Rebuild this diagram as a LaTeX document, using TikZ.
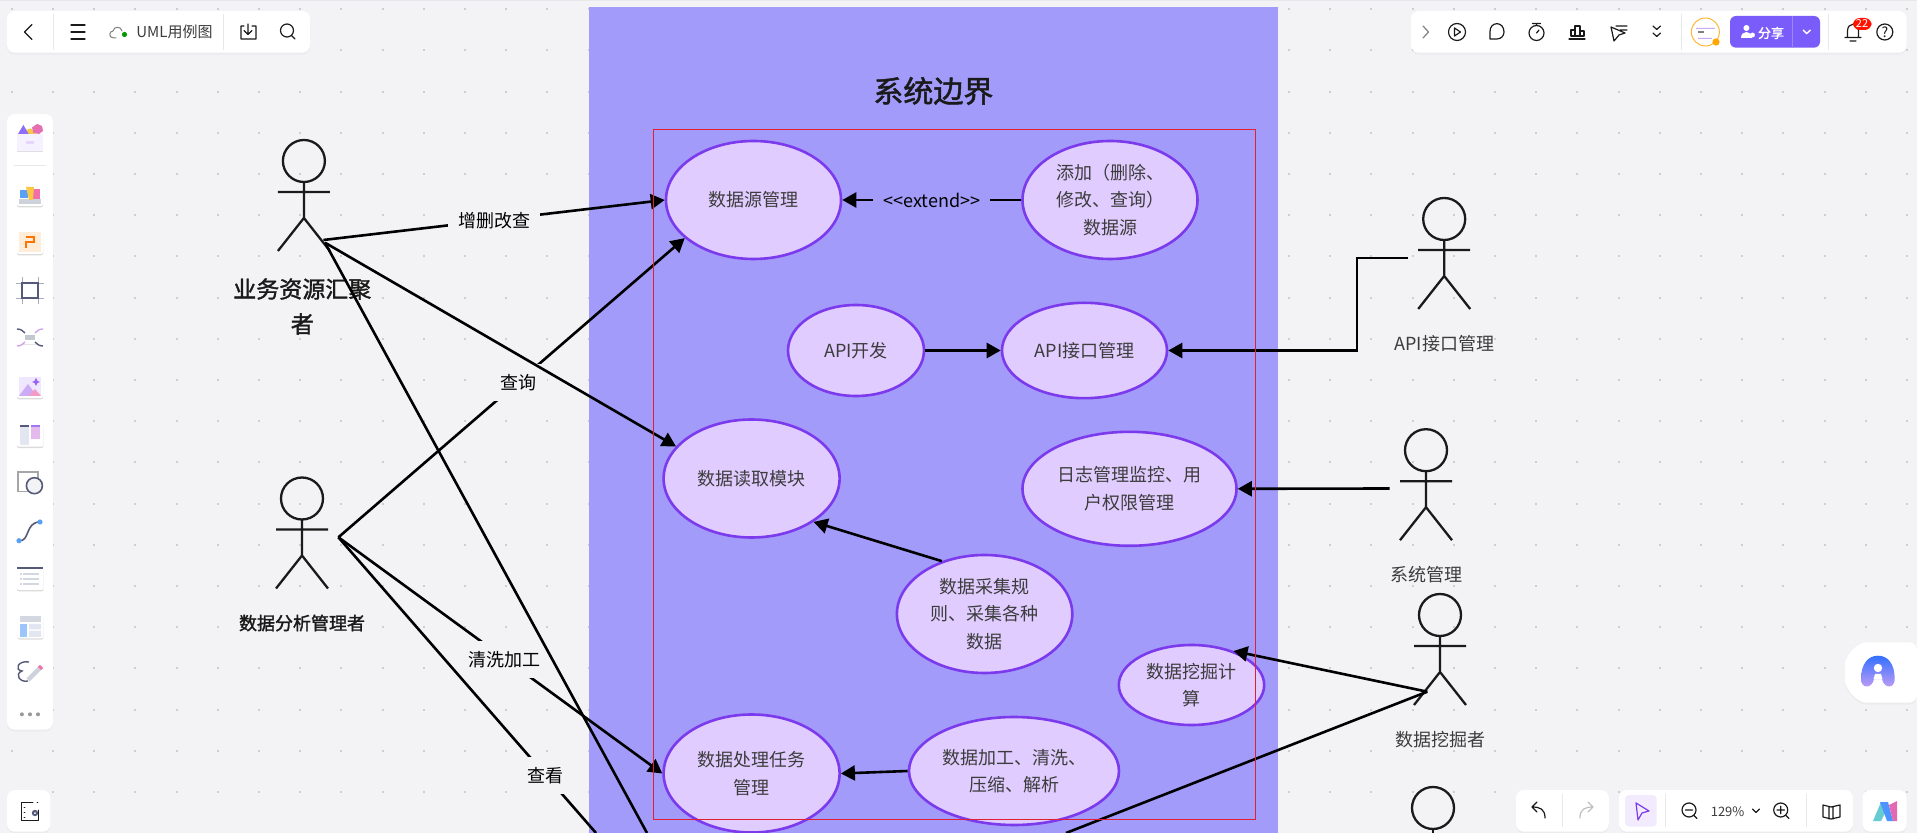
\documentclass[tikz,border=0pt]{standalone}
\usepackage{fontspec}
\setmainfont{Noto Sans CJK SC}
\newfontfamily\medfont[FakeBold=1.6]{Noto Sans CJK SC}
\usepackage{tikz}
\usetikzlibrary{arrows.meta,positioning,shapes.geometric,shadows}
\definecolor{kcanvas}{RGB}{243,243,246}
\definecolor{kdot}{RGB}{205,205,210}
\definecolor{kbound}{RGB}{162,155,250}
\definecolor{kuse}{RGB}{224,204,255}
\definecolor{kedge}{RGB}{124,58,237}
\definecolor{kred}{RGB}{226,30,50}
\definecolor{kink}{RGB}{26,26,26}
\definecolor{ktext}{RGB}{60,60,60}
\definecolor{kicon}{RGB}{85,90,120}
\definecolor{kshare}{RGB}{122,92,250}
\definecolor{kline}{RGB}{232,232,236}
\definecolor{kpink}{RGB}{240,110,170}
\definecolor{kblue}{RGB}{90,160,245}
\definecolor{kyellow}{RGB}{250,200,70}
\definecolor{klilac}{RGB}{205,170,245}
\definecolor{kgrey}{RGB}{226,230,240}
\definecolor{kviolet}{RGB}{140,110,250}
\newcommand{\stickman}[3]{%
  \node[actorhead] (#1) at (#2,#3) {};
  \draw[actorline,shift={(#2,#3)}] (0,21) -- (0,57) (-26,31) -- (26,31) (-26,90) -- (0,57) -- (26,90);
}
\begin{document}
\begin{tikzpicture}[x=0.5pt,y=-0.5pt,>={Triangle[length=7pt,width=7.5pt]},font=\fontsize{9}{13.7}\selectfont,text=ktext]
\tikzstyle{usecase}=[ellipse, draw=kedge, line width=1.3pt, fill=kuse, align=center, inner sep=0pt]
\tikzstyle{flow}=[line width=1.3pt, black]
\tikzstyle{linelabel}=[fill=kcanvas, inner xsep=5.2pt, inner ysep=0pt, minimum height=18.5pt, yshift=-0.4pt]
\tikzstyle{actorhead}=[circle, draw=kink, line width=1.15pt, minimum size=21pt, inner sep=0pt]
\tikzstyle{actorline}=[draw=kink, line width=1.15pt]
\tikzstyle{actorname}=[inner sep=0pt, minimum height=13pt, align=center]
\tikzstyle{panel}=[fill=white, rounded corners=4pt, drop shadow={shadow xshift=0pt,shadow yshift=-1pt,opacity=0.06}]
\tikzstyle{uiicon}=[draw=kink, line width=0.6pt, line cap=round, line join=round]
\tikzstyle{tile}=[fill=white, rounded corners=1pt, drop shadow={shadow xshift=0pt,shadow yshift=-0.7pt,opacity=0.28}]
\tikzstyle{sep}=[draw=kline, line width=0.5pt]

\useasboundingbox (0,0) rectangle (1917,833);
\fill[kcanvas] (0,0) rectangle (1917,833);
\fill[kline] (0,0) rectangle (1917,1.5);
\foreach \dotx in {0,...,46}
  \foreach \doty in {0,...,19}
    \fill[kdot] ({10.7+41.2*\dotx},{8.3+41.2*\doty}) rectangle ++(2,2);

\fill[kbound] (589,7) rectangle (1277.6,833);
\node[font=\fontsize{15}{18}\medfont,text=kink] (boundtitle) at (933.4,91) {系统边界};

\node[usecase, minimum width=87.5pt, minimum height=59pt] (dsrc) at (753.5,200) {数据源管理};
\node[usecase, minimum width=87.5pt, minimum height=59pt] (addsrc) at (1110,200) {添加（删除、\\修改、查询）\\数据源};
\node[usecase, minimum width=68pt, minimum height=45.5pt] (apidev) at (856,350.5) {API开发};
\node[usecase, minimum width=82.5pt, minimum height=47.7pt] (apimgr) at (1084.5,350.5) {API接口管理};
\node[usecase, minimum width=88pt, minimum height=59pt] (reader) at (751.6,478.5) {数据读取模块};
\node[usecase, minimum width=107pt, minimum height=57pt] (logs) at (1129.5,488.8) {日志管理监控、用\\户权限管理};
\node[usecase, minimum width=87.7pt, minimum height=59pt] (collect) at (984.6,614) {数据采集规\\则、采集各种\\数据};
\node[usecase, minimum width=72.7pt, minimum height=40pt] (mining) at (1191.5,685) {数据挖掘计\\算};
\node[usecase, minimum width=88pt, minimum height=59pt] (task) at (751.6,773.5) {数据处理任务\\管理};
\node[usecase, minimum width=105pt, minimum height=54pt] (clean) at (1014,771) {数据加工、清洗、\\压缩、解析};

\stickman{bizhead}{303.9}{161}
\stickman{anahead}{302}{498.5}
\stickman{apihead}{1444.2}{219}
\stickman{syshead}{1426}{450.2}
\stickman{minehead}{1440}{615}
\draw[actorline] (1433,829) -- (1433,833);
\node[actorhead] (lasthead) at (1433,808) {};

\node[font=\fontsize{11.5}{17.5}\medfont, text=kink, align=center] (bizname) at (302.3,306.5) {业务资源汇聚\\者};
\node[actorname, font=\fontsize{9}{13}\medfont, text=kink, below=44.5pt of anahead] (ananame) {数据分析管理者};
\node[actorname, below=44.5pt of apihead] (apiname) {API接口管理};
\node[actorname, below=44.5pt of syshead] (sysname) {系统管理};
\node[actorname, below=44.5pt of minehead] (minename) {数据挖掘者};

\coordinate (bizc) at (323.4,240);
\coordinate (bizd) at (325,242.7);
\coordinate (bizoff) at (647,833);
\coordinate (anac) at (338.4,537.3);
\coordinate (anaoff) at (596,833);
\coordinate (apic) at (1408,258);
\coordinate (apibend) at (1357,258);
\coordinate (sysc) at (1389.6,488.5);
\coordinate (minec) at (1427.3,691.7);
\coordinate (mineoff) at (1066,833);

\draw[flow,->] (bizc) -- node[linelabel] (crudlabel) {增删改查} (dsrc.west);
\draw[flow,->] (anac) -- node[linelabel,pos=0.52] (querylabel) {查询} (dsrc.209.6);
\draw[flow,->] (anac) -- node[linelabel,pos=0.514] (washlabel) {清洗加工} (task.west);
\draw[flow] (anac) -- node[linelabel,pos=0.804] (viewlabel) {查看} (anaoff);
\draw[flow,->] (bizd) -- (reader.157.6);
\draw[flow] (bizd) -- (bizoff);
\draw[flow,->] (addsrc.west) -- node[linelabel,fill=kbound,inner xsep=5pt,font=\fontsize{9}{10}\selectfont] (extlabel) {<{}<extend>{}>} (dsrc.east);
\draw[flow,->] (apidev.east) -- (apimgr.west);
\draw[flow,->] (apic) -- (apibend) |- (apimgr.east);
\draw[flow,->] (sysc) -- (logs.east);
\draw[flow,->] (collect.129.5) -- (reader.325.7);
\draw[flow,->] (clean.west) -- (task.east);
\draw[flow,->] (minec) -- (mining.39);
\draw[flow] (minec) -- (mineoff);

\draw[kred, line width=0.5pt] (653.5,129.3) rectangle (1255.5,819.3);

\fill[panel] (7,11) rectangle (310,52.7);
\draw[uiicon] (32,24.5) -- (24.5,32) -- (32,39.5);
\draw[sep] (53.6,14) -- (53.6,50) (223.5,14) -- (223.5,50);
\draw[uiicon] (71,25) -- (85,25) (71,32) -- (85,32) (71,39) -- (85,39);
\draw[uiicon,draw=gray,line width=0.5pt] (116,38) -- (114,38) .. controls (108,38) and (109,31) .. (113,31) .. controls (114,26) and (121,26) .. (122,31);
\fill[green!60!black] (124.5,34.5) circle (2.6);
\node[font=\fontsize{7.5}{9}\selectfont] (doctitle) at (174.5,32) {UML用例图};
\draw[uiicon] (244,26) -- (241,26) -- (241,39) -- (256,39) -- (256,26) -- (252,26) (248,24) -- (248,34) (244,30.5) -- (248,34.5) -- (252,30.5);
\draw[uiicon] (287,30.5) circle (6.5) (291.5,35.5) -- (295,39);

\fill[panel] (7,114) rectangle (53,729.7);
\fill[white!90!kedge,drop shadow={opacity=0.25,shadow xshift=0pt,shadow yshift=-0.7pt}] (17,134) rectangle (43,150.7);
\fill[kyellow] (30,134) circle (5.5);
\fill[kviolet] (18,134) -- (23.4,125) -- (28.7,134) -- cycle;
\fill[kpink!90!kviolet] (37,124) -- (42,126) -- (43,131) -- (39,134) -- (33.5,133) -- (32,127.5) -- cycle;
\fill[white!93!kedge] (17,134) rectangle (43,150.7);
\fill[kedge!20] (26,141) rectangle (34,144.5);
\draw[sep] (14,165.3) -- (46,165.3);
\fill[tile] (17,182.7) rectangle (43,206);
\fill[kgrey!80!gray] (19,199) rectangle (41,204);
\fill[kblue] (20,190) rectangle (28,198);
\fill[kpink] (31,189) rectangle (40,199);
\fill[kyellow] (26,187) -- (34,187) -- (33,200) -- (29,200) -- cycle;
\fill[tile] (17,230.7) rectangle (43,254);
\fill[orange!15] (19,232.5) rectangle (41,252);
\draw[orange!90!red,line width=0.8pt] (25.5,237) -- (34,237) -- (34,242) -- (26,242) -- (26,248);
\draw[kicon!50,line width=0.4pt] (22,277) -- (22,304) (38.3,277) -- (38.3,304) (16,283) -- (44,283) (16,298) -- (44,298);
\draw[kicon,line width=0.9pt] (22,283) rectangle (38.3,298);
\fill[white,drop shadow={opacity=0.2,shadow xshift=0pt,shadow yshift=-0.4pt}] (21,331) rectangle (39,344);
\fill[kgrey!70!gray] (25,335.5) rectangle (35,340);
\draw[kicon,line width=0.7pt] (17,329) .. controls (21,329) and (23,331) .. (25,333) (43,346) .. controls (39,346) and (37,344) .. (35,342);
\draw[klilac!90!kpink,line width=0.7pt] (43,329) .. controls (39,329) and (37,331) .. (35,333) (17,346) .. controls (21,346) and (23,344) .. (25,342);
\fill[tile] (17,375) rectangle (43,398);
\fill[kedge!12] (19,377) rectangle (41,396);
\fill[klilac] (19,396) -- (28,384) -- (37,396) -- cycle;
\fill[kpink!70] (29,396) -- (35,389) -- (41,396) -- cycle;
\fill[kedge!80] (36,378) -- (37.5,381) -- (40,382) -- (37.5,383) -- (36,386) -- (34.5,383) -- (32,382) -- (34.5,381) -- cycle;
\fill[tile] (17,423.3) rectangle (43.3,446.7);
\fill[kgrey] (19.6,425.5) rectangle (29,445);
\fill[kicon] (19.6,425) rectangle (29,426.7);
\fill[kpink!20!kuse] (31,425.5) rectangle (40,439);
\fill[kedge!70] (31,425) rectangle (40,426.7);
\draw[gray!70,line width=0.7pt,fill=white] (18,472) rectangle (38,491.5);
\draw[kicon,line width=0.8pt,fill=kcanvas] (34.4,485.7) circle (8);
\draw[kicon,line width=0.8pt] (19,540.7) .. controls (30,542) and (25,522) .. (40,522);
\fill[kblue] (19,540.7) circle (2.6) (40,522) circle (2.6);
\fill[tile] (17,567.3) rectangle (43.3,590);
\fill[kicon] (17,567.5) rectangle (43.3,569.3);
\draw[kgrey!85!gray,line width=0.7pt] (23,574) -- (39,574) (23,579) -- (39,579) (23,584) -- (39,584);
\fill[kicon] (21,574) circle (0.7) (21,579) circle (0.7) (21,584) circle (0.7);
\fill[tile] (17.9,614.3) rectangle (43.3,638.3);
\fill[kgrey!85!gray] (20,616) rectangle (41,622);
\fill[kblue!60] (20,624) rectangle (27,637);
\fill[kgrey] (29,624) rectangle (41,629.5) (29,631) rectangle (41,637);
\draw[kicon,line width=0.7pt] (29,662) .. controls (18,660) and (14,670) .. (22,671) .. controls (14,674) and (20,683) .. (28,681);
\draw[kgrey!80!gray,line width=2.2pt] (28,680) -- (41,667);
\draw[kpink,line width=2.2pt] (39.5,668.5) -- (41.5,666.5);
\fill[gray!80] (21.9,714.3) circle (2) (30,714.3) circle (2) (38,714.3) circle (2);

\fill[panel] (7,790) rectangle (50.4,831.7);
\draw[uiicon,line width=0.45pt] (33,802) -- (21,802) -- (21,820) -- (38,820) -- (38,810);
\draw[uiicon,line width=0.45pt] (24,807) -- (25,807) (24,812) -- (25,812) (24,817) -- (25,817) (37,802) -- (38,802);
\fill[kicon] (35,813) circle (3.2);
\fill[white] (35,813) circle (1);

\fill[panel] (1410.8,11) rectangle (1906.7,52.7);
\draw[uiicon,draw=gray] (1423,26) -- (1428.5,32) -- (1423,38);
\draw[uiicon] (1457,32) circle (8.5);
\draw[uiicon] (1454.5,28) -- (1454.5,36) -- (1460.5,32) -- cycle;
\draw[uiicon] (1496.8,39) -- (1490,39) -- (1490,31.5) .. controls (1490,21) and (1504,21) .. (1504,32) .. controls (1504,36) and (1501,39) .. (1496.8,39);
\draw[uiicon] (1536.5,33) circle (7.5) (1532.5,23.5) -- (1540.5,23.5) (1536.5,23.5) -- (1536.5,25.5) (1536.5,33) -- (1539,30);
\draw[uiicon] (1569,39) -- (1585,39) (1571,36) -- (1571,30) -- (1575,30) -- (1575,36) (1575,36) -- (1575,26) -- (1580,26) -- (1580,36) (1580,31) -- (1584,31) -- (1584,36) -- (1571,36);
\draw[uiicon] (1611,27) -- (1625,33) -- (1619,35) -- (1614,41) -- cycle (1616,26) -- (1627,26) (1620,30) -- (1627,30);
\draw[uiicon] (1653,26) -- (1656.7,29.5) -- (1660.5,26) (1653,33) -- (1656.7,36.5) -- (1660.5,33);
\draw[sep] (1681.4,14) -- (1681.4,50) (1828.6,14) -- (1828.6,50);
\draw[kyellow!80!orange,line width=0.5pt,fill=white] (1705.4,32) circle (14);
\fill[klilac] (1696,28) rectangle (1715,29) (1698,38) rectangle (1712,39);
\fill[gray] (1698,31) rectangle (1704,33.5);
\fill[orange!70!yellow] (1716,42) circle (3.6);
\fill[kshare,rounded corners=3pt] (1730,16) rectangle (1820,47.7);
\draw[white!25!kshare,line width=0.4pt] (1792.7,16) -- (1792.7,47.7);
\fill[white] (1746.4,28) circle (3) (1741,38) .. controls (1741,30) and (1752,30) .. (1752,38) -- cycle;
\fill[white] (1752.5,35) circle (2.4);
\node[font=\fontsize{6.5}{8}\medfont,text=white] (sharetext) at (1771,33) {分享};
\draw[white,line width=0.7pt] (1803,30) -- (1806.7,33.5) -- (1810.5,30);
\draw[uiicon] (1845,37.5) -- (1861,37.5) (1847.5,37.5) -- (1847.5,31) .. controls (1847.5,22) and (1858.5,22) .. (1858.5,31) -- (1858.5,37.5) (1850,41) -- (1856,41);
\fill[red!85!orange,rounded corners=3.4pt] (1853,18) rectangle (1871.5,30);
\node[font=\fontsize{5.5}{6}\selectfont,text=white] (bellcount) at (1862,24) {22};
\draw[uiicon] (1884.8,32) circle (8);
\node[font=\fontsize{7}{8}\selectfont,text=kink] (helpmark) at (1884.8,32) {?};

\fill[panel] (1845,642.3) -- (1917,642.3) -- (1917,702.7) -- (1875,702.7) .. controls (1856,702.7) and (1845,688) .. (1845,672.5) .. controls (1845,657) and (1856,642.3) .. (1875,642.3) -- cycle;
\shade[top color=blue!70!cyan!80, bottom color=klilac!90!kedge] (1861,679) .. controls (1861,664) and (1868,655.7) .. (1878,655.7) .. controls (1888,655.7) and (1894.7,664) .. (1894.7,679) .. controls (1894.7,689) and (1884,689) .. (1882,679) -- (1874,679) .. controls (1872,689) and (1861,689) .. (1861,679) -- cycle;
\fill[white] (1878,668) circle (4.2);
\fill[white] (1873.5,679) -- (1875,674) -- (1881,674) -- (1882.5,679) -- cycle;

\fill[panel] (1516,790) rectangle (1608.8,831.7);
\draw[uiicon] (1545,818) .. controls (1545,809) and (1540,807) .. (1532,807) (1537,802) -- (1532,807) -- (1537,812);
\draw[sep] (1562,794) -- (1562,827);
\draw[uiicon,draw=gray!50] (1580,818) .. controls (1580,809) and (1585,807) .. (1593,807) (1588,802) -- (1593,807) -- (1588,812);
\fill[panel] (1619,790) rectangle (1853,831.7);
\fill[kedge!10,rounded corners=2pt] (1625,795) rectangle (1656.7,826.7);
\draw[uiicon,draw=kedge] (1636,803) -- (1649,811) -- (1642,813) -- (1638,820) -- cycle;
\draw[sep] (1665,794) -- (1665,827) (1806,794) -- (1806,827);
\draw[uiicon] (1689,810) circle (7) (1685.5,810) -- (1692.5,810) (1694,815.5) -- (1697,818.5);
\node[font=\fontsize{6.5}{8}\selectfont] (zoomlevel) at (1727.6,812) {129\%};
\draw[uiicon] (1752.5,809) -- (1756,812.5) -- (1759.5,809);
\draw[uiicon] (1780.7,810) circle (7) (1777,810) -- (1784.4,810) (1780.7,806.3) -- (1780.7,813.7) (1786,815.5) -- (1789,818.5);
\draw[uiicon] (1823,805) -- (1831,807) -- (1840,805) -- (1840,817) -- (1831,819) -- (1823,817) -- cycle (1829,807) -- (1829,819) (1833,807) -- (1833,819);
\fill[panel] (1862.5,790) rectangle (1906.7,831.7);
\fill[cyan!70!green!60] (1873,821) -- (1881,802) -- (1886,811) -- (1881,821) -- cycle;
\fill[blue!60!cyan!70] (1880,802) -- (1888,802) -- (1893,821) -- (1887,821) -- cycle;
\fill[kpink!90!kedge] (1889,805) -- (1897,801) -- (1897,821) -- (1893,821) -- cycle;
\end{tikzpicture}
\end{document}
